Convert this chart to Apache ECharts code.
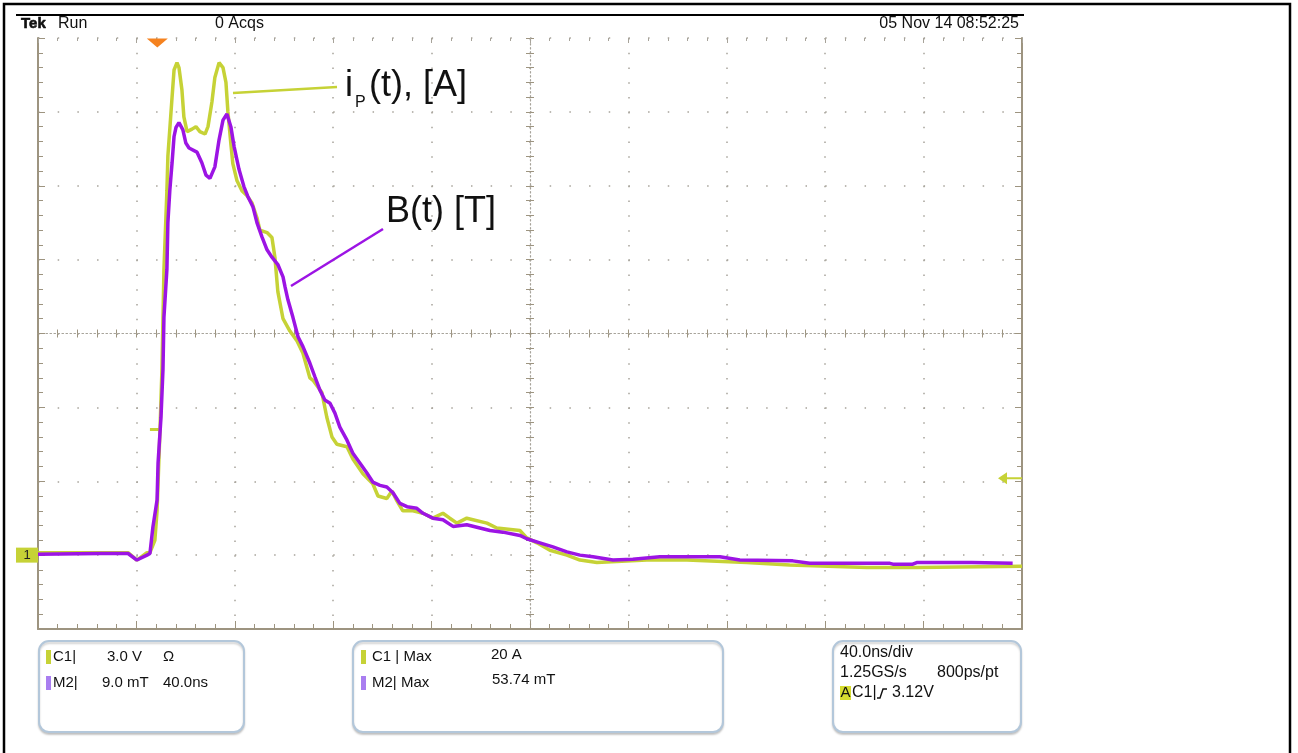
<!DOCTYPE html>
<html>
<head>
<meta charset="utf-8">
<script src="https://cdn.jsdelivr.net/npm/echarts@6/dist/echarts.min.js"></script>
<style>
  html, body { margin: 0; padding: 0; background: #fff; }
  #chart { width: 1298px; height: 753px; }
</style>
</head>
<body>
<div id="chart"></div>
<script>
// ---- Data ----
// Time axis: 40 ns/div, 10 divisions
const timeTicks = [0, 40, 80, 120, 160, 200, 240, 280, 320, 360, 400];

// C1: primary current i_P(t) [A], 3 A/div
const tCurrent = [0, 36.6, 40.2, 44.3, 45.5, 47.5, 48.4, 49.6, 50.4, 50.8, 51.2, 52.4, 52.8, 54.5, 55.3, 56.5, 57.3, 58.5, 59.3, 60.6,
  62.6, 64.2, 65.8, 67.9, 69.1, 70.7, 71.9, 73.6, 75.2, 76.4, 77.2, 78.4, 79.2, 80.9, 82.9, 84.9, 87.0, 89.0, 90.2, 93.1,
  95.1, 96.3, 97.5, 99.6, 102.4, 105.3, 107.7, 110.5, 111.8, 115.4, 117.4, 119.5, 121.5, 125.6, 128.0, 132.1, 136.1, 138.2, 141.8, 143.9,
  145.9, 148.3, 152.4, 156.5, 160.5, 164.6, 167.4, 170.3, 174.3, 182.5, 186.5, 195.9, 198.7, 202.8, 208.1, 215.0, 220.3, 227.2, 247.5, 263.8,
  288.1, 305.6, 336.9, 357.2, 400];
const iCurrent = [0.1, 0.1, -0.2, 0.1, 0.1, 0.6, 1.8, 5.1, 7.6, 9.6, 11.6, 14.8, 16.2, 18.6, 19.7, 20.0, 19.8, 18.9, 17.8, 17.2,
  17.3, 17.4, 17.2, 17.1, 17.4, 18.4, 19.4, 20.0, 19.8, 19.2, 18.0, 16.7, 15.9, 15.2, 14.8, 14.6, 14.3, 13.7, 13.2, 13.1,
  12.9, 12.1, 10.7, 9.6, 9.1, 8.7, 8.2, 7.2, 7.1, 6.6, 5.6, 4.8, 4.5, 4.4, 3.9, 3.3, 2.9, 2.4, 2.3, 2.6,
  2.2, 1.8, 1.8, 1.7, 1.5, 1.7, 1.5, 1.3, 1.5, 1.3, 1.1, 1.0, 0.7, 0.5, 0.2, 0.0, -0.2, -0.3, -0.2, -0.2,
  -0.3, -0.4, -0.5, -0.5, -0.45];
// small stray C1 segment during the rising edge
const tGlitch = [45.5, 50.0];
const iGlitch = [5.1, 5.1];

// M2: magnetic field B(t) [mT], 9 mT/div
const tField = [0, 25.2, 36.6, 40.2, 44.3, 45.5, 46.7, 48.4, 48.8, 50.0, 50.8, 51.2, 52.4, 52.8, 53.6, 54.5, 55.3, 56.1, 57.3, 58.9,
  60.1, 61.4, 64.6, 66.6, 68.3, 69.9, 71.9, 73.6, 75.2, 76.8, 78.4, 79.7, 81.7, 83.7, 85.3, 87.4, 89.0, 91.0, 93.1, 95.1,
  97.5, 99.6, 100.4, 101.6, 103.6, 105.7, 107.7, 110.5, 112.6, 114.6, 116.6, 118.7, 120.7, 122.7, 125.6, 128.0, 130.9, 133.7, 136.1, 139.0,
  141.8, 144.3, 147.1, 150.0, 154.0, 156.5, 160.5, 164.6, 168.7, 174.3, 178.4, 183.7, 189.0, 195.9, 198.7, 204.0, 209.3, 215.0, 220.3, 225.6,
  233.7, 241.8, 252.8, 277.2, 285.3, 306.8, 313.7, 346.3, 347.5, 355.6, 357.2, 379.6, 396.2];
const bField = [0.1, 0.2, 0.2, -0.6, 0.0, 0.2, 3.4, 6.7, 11.2, 16.8, 22.6, 29.0, 34.8, 40.5, 44.5, 47.8, 51.0, 52.1, 52.7, 51.8,
  50.2, 49.6, 49.1, 47.8, 46.3, 45.9, 47.3, 50.6, 53.0, 53.74, 52.2, 49.8, 47.0, 44.9, 43.7, 42.4, 40.5, 38.8, 37.2, 36.3,
  35.4, 33.9, 32.7, 31.1, 29.0, 26.6, 25.4, 23.4, 21.7, 20.1, 18.9, 18.5, 17.3, 15.6, 14.0, 12.4, 11.2, 10.0, 8.9, 8.5,
  8.3, 7.6, 6.3, 5.9, 5.7, 5.1, 4.5, 4.3, 3.5, 3.7, 3.4, 3.0, 2.8, 2.4, 2.0, 1.5, 1.0, 0.4, 0.0, -0.2,
  -0.6, -0.5, -0.2, -0.2, -0.6, -0.7, -1.0, -1.0, -1.1, -1.1, -0.9, -0.9, -1.0];

const triggerTime = 48.5;   // ns, horizontal trigger position
const triggerLevel = 3.12;  // trigger level on C1

// ---- Styles ----
const C1 = '#c6d236';
const M2 = '#9c14e4';
const GRAT = '#9d9480';
const DOT = '#a7a39a';
const FONT = '"Liberation Sans", Arial, sans-serif';

const chart = echarts.init(document.getElementById('chart'));

function pairs(xs, ys) { return xs.map((x, i) => [x, ys[i]]); }

const xBase = { type: 'value', min: timeTicks[0], max: timeTicks[timeTicks.length - 1], interval: 40,
  axisLabel: { show: false }, splitLine: { show: false } };

const tickStyle = { color: GRAT, width: 1 };

function txt(x, y, text, size, opts) {
  opts = opts || {};
  return { type: 'text', x: x, y: y, z: 100,
    style: Object.assign({ text: text, font: (opts.weight || 'normal') + ' ' + size + 'px ' + FONT,
      fill: opts.fill || '#111', align: opts.align || 'left', verticalAlign: 'middle' }, opts.style || {}) };
}
function box(x, y, w, h) {
  return { type: 'rect', z: 90, shape: { x: x, y: y, width: w, height: h, r: 10 },
    style: { fill: '#fff', stroke: '#b3c7da', lineWidth: 2, shadowColor: 'rgba(0,0,0,0.18)', shadowOffsetY: 2, shadowBlur: 2 } };
}
function swatch(x, y, color) {
  return { type: 'rect', z: 100, shape: { x: x, y: y, width: 5, height: 14 }, style: { fill: color } };
}

const option = {
  animation: false,
  backgroundColor: '#fff',
  grid: { left: 38, right: 276, top: 38, bottom: 124, containLabel: false },
  xAxis: [
    Object.assign({}, xBase, { position: 'bottom',
      axisLine: { show: true, onZero: false, lineStyle: { color: GRAT, width: 2 } },
      axisTick: { show: true, inside: true, length: 8, lineStyle: tickStyle },
      minorTick: { show: true, splitNumber: 5, length: 5, lineStyle: tickStyle },
      splitLine: { show: true, lineStyle: { color: DOT, width: 1.5, type: [1.5, 13.28] } } }),
    Object.assign({}, xBase, { position: 'top',
      axisLine: { show: false, onZero: false },
      axisTick: { show: true, inside: true, length: 5, lineStyle: { color: DOT } },
      minorTick: { show: true, splitNumber: 5, length: 3, lineStyle: { color: DOT } } }),
    Object.assign({}, xBase, { position: 'bottom', offset: -295.5,
      axisLine: { show: true, onZero: false, lineStyle: { color: DOT, width: 1.2, type: [1.5, 2.5] } },
      axisTick: { show: true, inside: true, length: 4, lineStyle: tickStyle },
      minorTick: { show: true, splitNumber: 5, length: 4, lineStyle: tickStyle } }),
    Object.assign({}, xBase, { position: 'bottom', offset: -295.5,
      axisLine: { show: false, onZero: false },
      axisTick: { show: true, inside: false, length: 4, lineStyle: tickStyle },
      minorTick: { show: true, splitNumber: 5, length: 4, lineStyle: tickStyle } })
  ],
  yAxis: [
    { type: 'value', min: -3, max: 21, interval: 3, position: 'left',
      axisLabel: { show: false },
      axisLine: { show: true, onZero: false, lineStyle: { color: GRAT, width: 2 } },
      axisTick: { show: true, inside: true, length: 7, lineStyle: tickStyle },
      minorTick: { show: true, splitNumber: 5, length: 5, lineStyle: tickStyle },
      splitLine: { show: true, lineStyle: { color: DOT, width: 1.5, type: [1.5, 18.18] } } },
    { type: 'value', min: -9, max: 63, interval: 9, position: 'right',
      axisLabel: { show: false }, splitLine: { show: false },
      axisLine: { show: true, onZero: false, lineStyle: { color: GRAT, width: 2 } },
      axisTick: { show: true, inside: true, length: 7, lineStyle: tickStyle },
      minorTick: { show: true, splitNumber: 5, length: 5, lineStyle: tickStyle } },
    { type: 'value', min: -4, max: 4, interval: 1, position: 'left', offset: -492,
      axisLabel: { show: false }, splitLine: { show: false },
      axisLine: { show: true, onZero: false, lineStyle: { color: DOT, width: 1.2, type: [1.5, 2.5] } },
      axisTick: { show: true, inside: true, length: 4, lineStyle: tickStyle },
      minorTick: { show: true, splitNumber: 5, length: 4, lineStyle: tickStyle } },
    { type: 'value', min: -4, max: 4, interval: 1, position: 'left', offset: -492,
      axisLabel: { show: false }, splitLine: { show: false },
      axisLine: { show: false, onZero: false },
      axisTick: { show: true, inside: false, length: 4, lineStyle: tickStyle },
      minorTick: { show: true, splitNumber: 5, length: 4, lineStyle: tickStyle } }
  ],
  series: [
    { type: 'line', name: 'C1 i_P(t) [A]', xAxisIndex: 0, yAxisIndex: 0, z: 3,
      data: pairs(tCurrent, iCurrent), symbol: 'none', clip: false,
      lineStyle: { color: C1, width: 3.5 },
      markPoint: {
        z: 6,
        data: [
          { coord: [triggerTime, 21], symbol: 'triangle', symbolRotate: 180, symbolSize: [21, 9], symbolOffset: [0, 5],
            itemStyle: { color: '#f5821f' }, label: { show: false } },
          { coord: [400, triggerLevel], symbol: 'path://M0,6 L9,0 L9,5 L24,5 L24,7 L9,7 L9,12 Z',
            symbolSize: [24, 12], symbolOffset: [-12, 0], symbolKeepAspect: false,
            itemStyle: { color: C1 }, label: { show: false } },
          { coord: [0, 0], symbol: 'rect', symbolSize: [22, 15], symbolOffset: [-11, 0],
            itemStyle: { color: C1 },
            label: { show: true, position: 'inside', formatter: '1', color: '#222', fontSize: 13, fontFamily: FONT } }
        ]
      } },
    { type: 'line', name: 'C1 stray', xAxisIndex: 0, yAxisIndex: 0, z: 3,
      data: pairs(tGlitch, iGlitch), symbol: 'none', lineStyle: { color: C1, width: 3 } },
    { type: 'line', name: 'M2 B(t) [mT]', xAxisIndex: 0, yAxisIndex: 1, z: 4,
      data: pairs(tField, bField), symbol: 'none',
      lineStyle: { color: M2, width: 3.5 } }
  ],
  graphic: [
    // outer frame and header rule
    { type: 'rect', z: 80, shape: { x: 4, y: 4, width: 1286, height: 760 }, style: { fill: 'none', stroke: '#000', lineWidth: 2.5 } },
    { type: 'line', z: 80, shape: { x1: 16, y1: 15, x2: 1024, y2: 15 }, style: { stroke: '#000', lineWidth: 2 } },
    txt(21, 24, 'Tek', 15, { weight: 'bold', style: { stroke: '#111', lineWidth: 0.6 } }),
    txt(58, 24, 'Run', 16),
    txt(215, 24, '0 Acqs', 16),
    txt(1019, 24, '05 Nov 14 08:52:25', 16, { align: 'right' }),

    // annotations
    { type: 'line', z: 100, shape: { x1: 233, y1: 93, x2: 337, y2: 87 }, style: { stroke: C1, lineWidth: 2.5 } },
    txt(345, 86, 'i', 36),
    txt(355, 103, 'P', 16),
    txt(369, 86, '(t), [A]', 36),
    { type: 'line', z: 100, shape: { x1: 291, y1: 286, x2: 383, y2: 229 }, style: { stroke: M2, lineWidth: 2.5 } },
    txt(386, 212, 'B(t) [T]', 36),

    // readout boxes
    box(39, 641, 205, 91),
    swatch(46, 650, C1),
    txt(53, 657, 'C1|', 15),
    txt(107, 657, '3.0 V', 15),
    txt(163, 657, 'Ω', 15),
    swatch(46, 676, '#a97ef0'),
    txt(53, 683, 'M2|', 15),
    txt(102, 683, '9.0 mT', 15),
    txt(163, 683, '40.0ns', 15),

    box(353, 641, 370, 91),
    swatch(361, 650, C1),
    txt(372, 657, 'C1 | Max', 15),
    txt(491, 655, '20 A', 15),
    swatch(361, 676, '#a97ef0'),
    txt(372, 683, 'M2| Max', 15),
    txt(492, 680, '53.74 mT', 15),

    box(833, 641, 188, 91),
    txt(840, 653, '40.0ns/div', 16),
    txt(840, 673, '1.25GS/s', 16),
    txt(937, 673, '800ps/pt', 16),
    { type: 'rect', z: 95, shape: { x: 840, y: 686, width: 11, height: 14 }, style: { fill: '#d6dc30' } },
    txt(840.5, 693, 'A', 15),
    txt(852, 693, 'C1|', 16),
    { type: 'polyline', z: 100, shape: { points: [[877, 698], [880, 698], [883, 689], [887, 689]] },
      style: { stroke: '#111', lineWidth: 1.4, fill: 'none' } },
    txt(892, 693, '3.12V', 16)
  ]
};

chart.setOption(option);
</script>
</body>
</html>
